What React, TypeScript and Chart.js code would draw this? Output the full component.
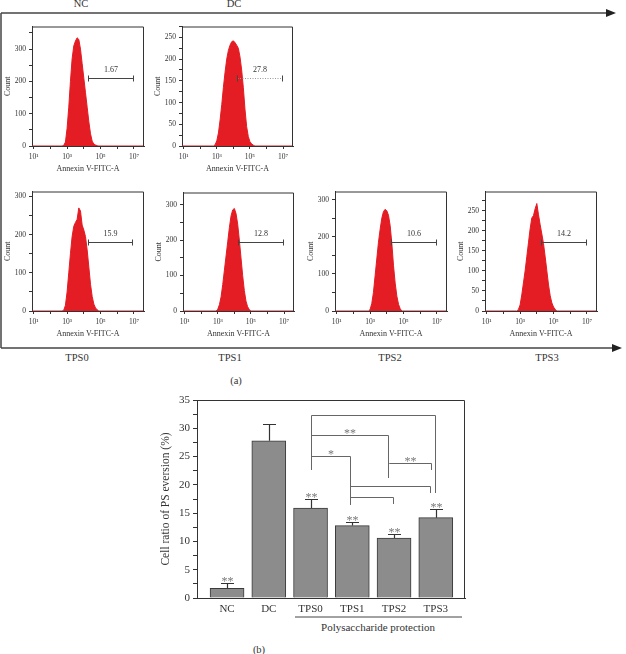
import React, { useEffect, useRef } from "react";
import { Chart, registerables } from "chart.js";

Chart.register(...registerables);

const SERIF = '"Liberation Serif", "Times New Roman", Times, serif';
const INK = "#333333";
const RED = "rgb(228, 28, 36)";

// ---------------- Part (a): Annexin V-FITC histograms ----------------
const histNames = ["NC", "DC", "TPS0", "TPS1", "TPS2", "TPS3"];
const histBinWidth = 0.1; // decades per bin
const histFirstBin = [2.7, 2.8, 2.7, 2.9, 2.9, 2.8]; // log10 of first bin
const ncCounts = [0, 2, 12, 55, 120, 200, 270, 310, 325, 335, 330, 300, 255, 210, 165, 120, 75, 38, 15, 6, 3, 1, 0];
const dcCounts = [0, 3, 12, 30, 60, 95, 135, 170, 200, 220, 232, 240, 242, 238, 232, 225, 205, 175, 135, 85, 45, 22, 10, 5, 2, 0];
const tps0Counts = [0, 2, 15, 50, 100, 150, 195, 222, 232, 240, 270, 262, 225, 212, 195, 160, 115, 70, 38, 18, 8, 3, 0];
const tps1Counts = [0, 5, 18, 40, 75, 115, 155, 195, 235, 268, 285, 289, 275, 245, 200, 150, 100, 58, 28, 12, 4, 0];
const tps2Counts = [0, 4, 20, 50, 95, 140, 185, 220, 250, 268, 274, 270, 258, 230, 182, 122, 75, 40, 18, 6, 0];
const tps3Counts = [0, 4, 15, 40, 70, 100, 135, 170, 205, 232, 238, 255, 268, 240, 215, 192, 168, 135, 100, 65, 38, 20, 10, 4, 0];
const histCounts = [ncCounts, dcCounts, tps0Counts, tps1Counts, tps2Counts, tps3Counts];
const histYMax = [370, 275, 313, 334, 322, 298];
const histYStep = [100, 50, 100, 100, 100, 50];
const gateLabels = ["1.67", "27.8", "15.9", "12.8", "10.6", "14.2"];
const gateFrom = [4.27, 4.2, 4.23, 4.24, 4.23, 4.23];
const gateTo = [6.92, 6.92, 6.86, 6.92, 6.92, 6.92];
const gateLevel = [211, 156, 181, 195, 186, 172];
const logMin = 0.9;
const logMax = 7.6;
const decadeTicks = [1, 2, 3, 4, 5, 6, 7];
const decadeTickLabels = ["10\u00B9", "", "10\u00B3", "", "10\u2075", "", "10\u2077"];
const histXTitle = "Annexin V-FITC-A";
const histYTitle = "Count";

// ---------------- Part (b): bar chart ----------------
const groups = ["NC", "DC", "TPS0", "TPS1", "TPS2", "TPS3"];
const ratioMean = [1.7, 27.8, 15.9, 12.8, 10.6, 14.2];
const ratioErr = [0.9, 2.9, 1.6, 0.6, 0.7, 1.5];
const groupMarks = ["**", "", "**", "**", "**", "**"];
const bracketFrom = [2.01, 2.01, 2.01, 3.87, 2.94, 2.94];
const bracketTo = [4.98, 3.85, 2.94, 4.88, 4.86, 3.97];
const bracketTop = [32.35, 28.81, 25.1, 23.86, 19.8, 17.85];
const bracketLeftEnd = [22.63, 28.81, 25.1, 23.86, 19.8, 17.85];
const bracketRightEnd = [18.56, 21.21, 16.44, 22.63, 18.56, 16.62];
const bracketMarks = ["", "**", "*", "**", "", ""];
const ratioMax = 35;
const ratioStep = 5;
const ratioTitle = "Cell ratio of PS eversion (%)";
const protectionLabel = "Polysaccharide protection";

// layout (page pixels) of each histogram plot box: left, top, right, bottom
const histRects = [
  [32, 25, 144, 146],
  [182, 25, 293, 146],
  [32, 190, 144, 311],
  [183, 191, 294, 311],
  [335, 190, 447, 311],
  [485, 190, 597, 311],
];
const histNamePos = [
  [81, 4],
  [234, 4],
  [77, 358],
  [230, 358],
  [390, 358],
  [547, 358],
];

function Txt(props: { x: number; y: number; size: number; color?: string; children: React.ReactNode }) {
  return (
    <div
      style={{
        position: "absolute",
        left: props.x,
        top: props.y,
        transform: "translate(-50%, -50%)",
        fontFamily: SERIF,
        fontSize: props.size,
        lineHeight: 1,
        color: props.color || INK,
        whiteSpace: "nowrap",
      }}
    >
      {props.children}
    </div>
  );
}

function HistPanel({ idx }: { idx: number }) {
  const ref = useRef<HTMLCanvasElement | null>(null);
  const [L, T, R, B] = histRects[idx];
  const left = L - 29;
  const top = T - 6;
  const width = R - L + 29 + 5;
  const height = B - T + 6 + 28;

  useEffect(() => {
    if (!ref.current) return;
    const counts = histCounts[idx];
    const first = histFirstBin[idx];
    const points = [
      { x: logMin, y: 0 },
      ...counts.map((c, i) => ({ x: first + i * histBinWidth, y: c })),
      { x: logMax, y: 0 },
    ];
    const step = histYStep[idx];
    const ymax = histYMax[idx];

    const gatePlugin = {
      id: "gate" + idx,
      afterDatasetsDraw(chart: any) {
        const { ctx, chartArea: a, scales } = chart;
        const xs = scales.x;
        const ys = scales.y;
        ctx.save();
        ctx.strokeStyle = INK;
        ctx.lineWidth = 1;
        ctx.beginPath();
        ctx.moveTo(a.left, a.top + 0.5);
        ctx.lineTo(a.right - 0.5, a.top + 0.5);
        ctx.lineTo(a.right - 0.5, a.bottom);
        ctx.stroke();
        const x1 = Math.round(xs.getPixelForValue(gateFrom[idx])) + 0.5;
        const x2 = Math.round(xs.getPixelForValue(gateTo[idx])) + 0.5;
        const gy = Math.round(ys.getPixelForValue(gateLevel[idx])) + 0.5;
        ctx.lineWidth = 1;
        if (idx === 1) {
          ctx.strokeStyle = "#999";
          ctx.setLineDash([1, 1.5]);
        } else {
          ctx.strokeStyle = "#444";
        }
        ctx.beginPath();
        ctx.moveTo(x1, gy);
        ctx.lineTo(x2, gy);
        ctx.stroke();
        ctx.setLineDash([]);
        ctx.strokeStyle = "#444";
        ctx.beginPath();
        ctx.moveTo(x1, gy - 3);
        ctx.lineTo(x1, gy + 3);
        ctx.moveTo(x2, gy - 3);
        ctx.lineTo(x2, gy + 3);
        ctx.stroke();
        ctx.fillStyle = INK;
        ctx.font = `8px ${SERIF}`;
        ctx.textAlign = "center";
        ctx.textBaseline = "middle";
        ctx.fillText(gateLabels[idx], (x1 + x2) / 2, gy - 9);
        ctx.restore();
      },
    };

    const chart = new Chart(ref.current, {
      type: "line",
      data: {
        datasets: [
          {
            data: points,
            borderColor: RED,
            backgroundColor: RED,
            borderWidth: 1,
            fill: "origin",
            pointRadius: 0,
            tension: 0,
          },
        ],
      },
      options: {
        animation: false,
        responsive: false,
        events: [],
        layout: { padding: { top: 6, right: 5, left: 0, bottom: 0 } },
        plugins: { legend: { display: false }, tooltip: { enabled: false } },
        scales: {
          x: {
            type: "linear",
            min: logMin,
            max: logMax,
            afterBuildTicks: (s: any) => {
              s.ticks = decadeTicks.map((v) => ({ value: v }));
            },
            afterFit: (s: any) => {
              s.height = 28;
            },
            ticks: {
              autoSkip: false,
              maxRotation: 0,
              padding: 4,
              color: INK,
              font: { family: SERIF, size: 7.5 },
              callback: (_v: any, i: number) => decadeTickLabels[i],
            },
            grid: { display: true, drawOnChartArea: false, tickLength: 3, color: INK },
            border: { display: true, color: INK, width: 1 },
            title: {
              display: true,
              text: histXTitle,
              color: INK,
              padding: 0,
              font: { family: SERIF, size: 8 },
            },
          },
          y: {
            type: "linear",
            min: 0,
            max: ymax,
            afterBuildTicks: (s: any) => {
              const t: any[] = [];
              for (let v = 0; v <= ymax; v += step / 2) t.push({ value: v });
              s.ticks = t;
            },
            afterFit: (s: any) => {
              s.width = 29;
            },
            ticks: {
              autoSkip: false,
              padding: 3,
              color: INK,
              font: { family: SERIF, size: 7.5 },
              callback: (v: any) => (v % step === 0 ? String(v) : ""),
            },
            grid: { display: true, drawOnChartArea: false, tickLength: 3, color: INK },
            border: { display: true, color: INK, width: 1 },
            title: {
              display: true,
              text: histYTitle,
              color: INK,
              padding: 0,
              font: { family: SERIF, size: 8 },
            },
          },
        },
      },
      plugins: [gatePlugin],
    } as any);
    return () => chart.destroy();
  }, [idx]);

  return (
    <canvas
      ref={ref}
      width={width}
      height={height}
      style={{ position: "absolute", left, top, width, height }}
    />
  );
}

function BarPanel() {
  const ref = useRef<HTMLCanvasElement | null>(null);
  const left = 159;
  const top = 390;
  const width = 312;
  const height = 225;

  useEffect(() => {
    if (!ref.current) return;
    const extras = {
      id: "barExtras",
      afterDatasetsDraw(chart: any) {
        const { ctx, chartArea: a, scales } = chart;
        const xs = scales.x;
        const ys = scales.y;
        ctx.save();
        ctx.strokeStyle = INK;
        ctx.lineWidth = 1;
        ctx.beginPath();
        ctx.moveTo(a.left, a.top + 0.5);
        ctx.lineTo(a.right - 0.5, a.top + 0.5);
        ctx.lineTo(a.right - 0.5, a.bottom);
        ctx.stroke();

        ctx.font = `12px ${SERIF}`;
        ctx.textAlign = "center";
        ctx.textBaseline = "alphabetic";
        ratioMean.forEach((m, i) => {
          const px = Math.round(xs.getPixelForValue(i)) + 0.5;
          const yb = ys.getPixelForValue(m);
          const yt = Math.round(ys.getPixelForValue(m + ratioErr[i])) + 0.5;
          ctx.strokeStyle = "#333";
          ctx.lineWidth = 1.2;
          ctx.beginPath();
          ctx.moveTo(px, yb);
          ctx.lineTo(px, yt);
          ctx.moveTo(px - 6.5, yt);
          ctx.lineTo(px + 6.5, yt);
          ctx.stroke();
          if (groupMarks[i]) {
            ctx.fillStyle = "#777";
            ctx.fillText(groupMarks[i], px, yt + 1);
          }
        });
        ctx.strokeStyle = "#666";
        ctx.lineWidth = 1;
        bracketFrom.forEach((f, k) => {
          const x1 = Math.round(xs.getPixelForValue(f)) + 0.5;
          const x2 = Math.round(xs.getPixelForValue(bracketTo[k])) + 0.5;
          const yt = Math.round(ys.getPixelForValue(bracketTop[k])) + 0.5;
          const yl = ys.getPixelForValue(bracketLeftEnd[k]);
          const yr = ys.getPixelForValue(bracketRightEnd[k]);
          ctx.beginPath();
          ctx.moveTo(x1, yl);
          ctx.lineTo(x1, yt);
          ctx.lineTo(x2, yt);
          ctx.lineTo(x2, yr);
          ctx.stroke();
          if (bracketMarks[k]) {
            ctx.fillStyle = "#777";
            ctx.fillText(bracketMarks[k], (x1 + x2) / 2, yt + 1);
          }
        });
        ctx.restore();
      },
    };

    const chart = new Chart(ref.current, {
      type: "bar",
      data: {
        datasets: [
          {
            data: groups.map((_g, i) => ({ x: i, y: ratioMean[i] })),
            backgroundColor: "#8c8c8c",
            borderColor: "#3a3a3a",
            borderWidth: 1,
            barThickness: 34,
          },
        ],
      },
      options: {
        animation: false,
        responsive: false,
        events: [],
        layout: { padding: { top: 10, right: 6, left: 0, bottom: 0 } },
        plugins: { legend: { display: false }, tooltip: { enabled: false } },
        scales: {
          x: {
            type: "linear",
            min: -0.72,
            max: 5.7,
            offset: false,
            afterBuildTicks: (s: any) => {
              s.ticks = groups.map((_g, i) => ({ value: i }));
            },
            afterFit: (s: any) => {
              s.height = 17;
            },
            ticks: {
              autoSkip: false,
              maxRotation: 0,
              padding: 5,
              color: INK,
              font: { family: SERIF, size: 11 },
              callback: (_v: any, i: number) => groups[i],
            },
            grid: { display: false, drawTicks: false },
            border: { display: true, color: INK, width: 1 },
          },
          y: {
            type: "linear",
            min: 0,
            max: ratioMax,
            afterBuildTicks: (s: any) => {
              const t: any[] = [];
              for (let v = 0; v <= ratioMax; v += ratioStep / 2) t.push({ value: v });
              s.ticks = t;
            },
            afterFit: (s: any) => {
              s.width = 38;
            },
            ticks: {
              autoSkip: false,
              padding: 3,
              color: INK,
              font: { family: SERIF, size: 11 },
              callback: (v: any) => (v % ratioStep === 0 ? String(v) : ""),
            },
            grid: { display: true, drawOnChartArea: false, tickLength: 4, color: INK },
            border: { display: true, color: INK, width: 1 },
            title: {
              display: true,
              text: ratioTitle,
              color: INK,
              padding: 0,
              font: { family: SERIF, size: 11.5 },
            },
          },
        },
      },
      plugins: [extras],
    } as any);
    return () => chart.destroy();
  }, []);

  return (
    <canvas
      ref={ref}
      width={width}
      height={height}
      style={{ position: "absolute", left, top, width, height }}
    />
  );
}

export default function App() {
  return (
    <div
      style={{
        position: "absolute",
        left: 0,
        top: 0,
        width: 626,
        height: 654,
        overflow: "hidden",
        background: "#fff",
      }}
    >
      <svg width={626} height={654} style={{ position: "absolute", left: 0, top: 0 }}>
        <g stroke="#444" strokeWidth={1.5} fill="none">
          <path d="M1,13 L607,13" />
          <path d="M1,13 L1,348" />
          <path d="M1,348 L613,348" />
          <path d="M295,617 L462,617" strokeWidth={1} />
        </g>
        <polygon points="606,9 616,13 606,17" fill="#222" />
        <polygon points="612,344 622,348 612,352" fill="#222" />
      </svg>
      {histNames.map((n, i) => (
        <Txt key={"n" + i} x={histNamePos[i][0]} y={histNamePos[i][1]} size={10.5}>
          {n}
        </Txt>
      ))}
      {histNames.map((_n, i) => (
        <HistPanel key={"h" + i} idx={i} />
      ))}
      <Txt x={236} y={381} size={10.5}>
        (a)
      </Txt>
      <BarPanel />
      <Txt x={378} y={627} size={11}>
        {protectionLabel}
      </Txt>
      <Txt x={259} y={650} size={10.5}>
        (b)
      </Txt>
    </div>
  );
}
